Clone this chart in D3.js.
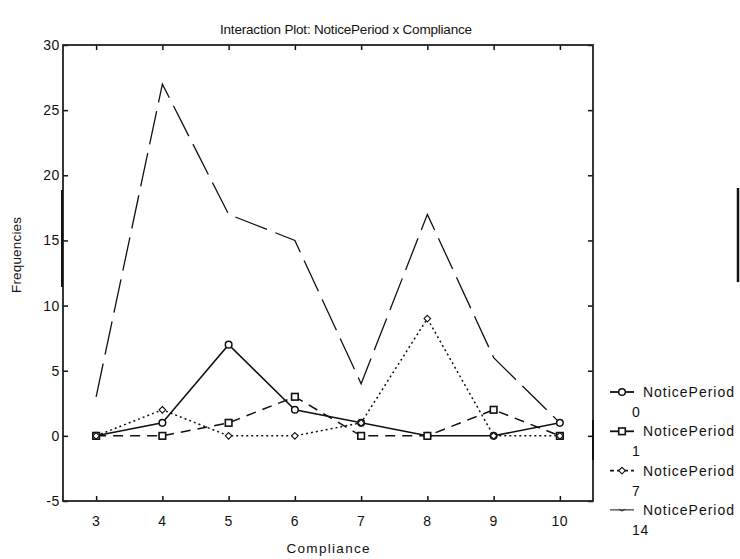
<!DOCTYPE html>
<html lang="en">
<head>
<meta charset="UTF-8">
<title>Interaction Plot</title>
<script src="https://d3js.org/d3.v7.min.js"></script>
<style>
  body { margin: 0; background: #fff; }
  text { font-family: "Liberation Sans", Arial, sans-serif; fill: #111; }
</style>
</head>
<body>
<div id="chart"></div>
<script>
// data
var compliance = [3, 4, 5, 6, 7, 8, 9, 10];
var np0  = [0, 1, 7, 2, 1, 0, 0, 1];
var np1  = [0, 0, 1, 3, 0, 0, 2, 0];
var np7  = [0, 2, 0, 0, 1, 9, 0, 0];
var np14 = [3, 27, 17, 15, 4, 17, 6, 1];
var yTicks = [-5, 0, 5, 10, 15, 20, 25, 30];
var seriesNames = ["NoticePeriod 0", "NoticePeriod 1", "NoticePeriod 7", "NoticePeriod 14"];

var width = 740, height = 559;
var m = { left: 63, right: 593, top: 45, bottom: 501 };

var svg = d3.select("#chart").append("svg")
    .attr("width", width)
    .attr("height", height);

var x = d3.scaleLinear().domain([2.5, 10.5]).range([m.left, m.right]);
var y = d3.scaleLinear().domain([-5, 30]).range([m.bottom, m.top]);

// title
svg.append("text")
    .attr("x", 346).attr("y", 34)
    .attr("text-anchor", "middle")
    .style("font-size", "13.5px")
    .attr("textLength", 252)
    .text("Interaction Plot: NoticePeriod x Compliance");

// axes (ticks point inward)
var tk = 5;
svg.append("g").attr("transform", "translate(0," + m.bottom + ")")
    .call(d3.axisTop(x).tickValues(compliance).tickSize(tk).tickFormat(""));
svg.append("g").attr("transform", "translate(0," + m.top + ")")
    .call(d3.axisBottom(x).tickValues(compliance).tickSize(tk).tickFormat(""));
svg.append("g").attr("transform", "translate(" + m.left + ",0)")
    .call(d3.axisRight(y).tickValues(yTicks).tickSize(tk).tickFormat(""));
svg.append("g").attr("transform", "translate(" + m.right + ",0)")
    .call(d3.axisLeft(y).tickValues(yTicks).tickSize(tk).tickFormat(""));
svg.selectAll(".domain").remove();
svg.selectAll(".tick line").attr("stroke", "#111").attr("stroke-width", 1.5);

svg.append("rect")
    .attr("x", m.left).attr("y", m.top)
    .attr("width", m.right - m.left).attr("height", m.bottom - m.top)
    .attr("fill", "none").attr("stroke", "#222").attr("stroke-width", 1.8);

// scan smudges along the frame
svg.append("line").attr("x1", m.left - 1).attr("x2", m.left - 1)
    .attr("y1", 190).attr("y2", 287).attr("stroke", "#111").attr("stroke-width", 2);
svg.append("line").attr("x1", m.right).attr("x2", m.right)
    .attr("y1", 420).attr("y2", 460).attr("stroke", "#111").attr("stroke-width", 2);
svg.append("line").attr("x1", 738).attr("x2", 738)
    .attr("y1", 188).attr("y2", 282).attr("stroke", "#111").attr("stroke-width", 2.5);

// tick labels
svg.selectAll(".ylab").data(yTicks).enter().append("text")
    .attr("x", m.left - 3).attr("y", d => y(d) + 5)
    .attr("text-anchor", "end")
    .style("font-size", "14px")
    .style("letter-spacing", "0.6px")
    .text(d => d);
svg.selectAll(".xlab").data(compliance).enter().append("text")
    .attr("x", d => x(d)).attr("y", 526)
    .attr("text-anchor", "middle")
    .style("font-size", "14px")
    .style("letter-spacing", "0.6px")
    .text(d => d);

svg.append("text")
    .attr("x", (m.left + m.right) / 2).attr("y", 553)
    .attr("text-anchor", "middle")
    .style("font-size", "13.5px")
    .attr("textLength", 83)
    .text("Compliance");
svg.append("text")
    .attr("transform", "translate(21,255) rotate(-90)")
    .attr("text-anchor", "middle")
    .style("font-size", "13.5px")
    .attr("textLength", 76)
    .text("Frequencies");

// series
var series = [
  { name: seriesNames[0], values: np0,  dash: null,    width: 1.5, marker: "circle" },
  { name: seriesNames[1], values: np1,  dash: "10,7",  width: 1.5, marker: "square" },
  { name: seriesNames[2], values: np7,  dash: "2,3",   width: 1.5, marker: "diamond" },
  { name: seriesNames[3], values: np14, dash: "34,9",  width: 1.3, marker: null }
];

var line = d3.line().x((d, i) => x(compliance[i])).y(d => y(d));

function drawMarker(g, type, cx, cy) {
  if (type === "circle") {
    g.append("circle").attr("cx", cx).attr("cy", cy).attr("r", 3.3)
      .attr("fill", "#fff").attr("stroke", "#111").attr("stroke-width", 1.5);
  } else if (type === "square") {
    g.append("rect").attr("x", cx - 3.3).attr("y", cy - 3.3)
      .attr("width", 6.6).attr("height", 6.6)
      .attr("fill", "#fff").attr("stroke", "#111").attr("stroke-width", 1.6);
  } else if (type === "diamond") {
    g.append("path")
      .attr("d", "M" + cx + "," + (cy - 3.3) + "L" + (cx + 3.3) + "," + cy +
                 "L" + cx + "," + (cy + 3.3) + "L" + (cx - 3.3) + "," + cy + "Z")
      .attr("fill", "#fff").attr("stroke", "#111").attr("stroke-width", 1.1);
  }
}

series.slice().reverse().forEach(function(s) {
  svg.append("path")
    .datum(s.values)
    .attr("d", line)
    .attr("fill", "none")
    .attr("stroke", "#111")
    .attr("stroke-width", s.width)
    .attr("stroke-dasharray", s.dash);
});
series.forEach(function(s) {
  var g = svg.append("g");
  s.values.forEach(function(v, i) { drawMarker(g, s.marker, x(compliance[i]), y(v)); });
});

// legend
var legendDash = [null, null, "4,3", null];
var leg = svg.append("g");
series.forEach(function(s, i) {
  var ly = 392 + i * 39.3;
  leg.append("line")
    .attr("x1", 610).attr("x2", 634).attr("y1", ly).attr("y2", ly)
    .attr("stroke", "#111").attr("stroke-width", i === 3 ? 1 : 1.8)
    .attr("stroke-dasharray", legendDash[i]);
  if (s.marker) drawMarker(leg, s.marker, 622, ly);
  else leg.append("path").attr("d", "M619," + (ly - 1) + "q3,4 6,0")
          .attr("fill", "none").attr("stroke", "#111").attr("stroke-width", 1);
  var parts = s.name.split(" ");
  leg.append("text").attr("x", 643).attr("y", ly + 5)
    .style("font-size", "14px").attr("textLength", 91)
    .text(parts[0]);
  leg.append("text").attr("x", 632).attr("y", ly + 25)
    .style("font-size", "14px").style("letter-spacing", "0.6px")
    .text(parts[1]);
});
</script>
</body>
</html>
